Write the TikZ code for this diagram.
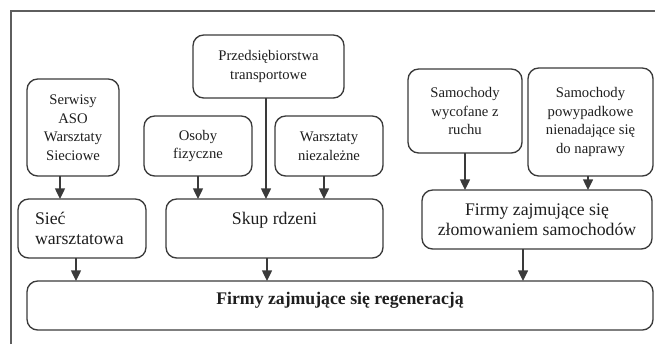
\documentclass[tikz,border=0pt]{standalone}
\usepackage{fontspec}
\setmainfont{Liberation Serif}
\usetikzlibrary{arrows.meta, calc}

\definecolor{linegray}{HTML}{3A3A3A}
\definecolor{textgray}{HTML}{1E1E1E}
\definecolor{framegray}{HTML}{5E5E5E}

\tikzset{
  box/.style={draw=linegray, line width=1pt, rounded corners=8pt, inner sep=0pt,
    outer sep=0pt, align=center, text=textgray},
  small/.style={font=\rmfamily\fontsize{11}{13.9}\selectfont},
  big/.style={font=\rmfamily\fontsize{13.3}{15}\selectfont},
  bw/.style={minimum width=0.75pt*#1},
  bh/.style={minimum height=0.75pt*#1},
  arr/.style={draw=linegray, line width=1pt, -{Triangle[width=7.5pt,length=8pt]}}
}

\begin{document}
\begin{tikzpicture}[x=0.75pt, y=-0.75pt]
        \useasboundingbox (0,0) rectangle (655,344);
        \draw[framegray, line width=1pt] (11,344) -- (11,11) -- (655,11);

        % sources
        \node[box, small, bw=92, bh=97] (serwisy) at (73,127.5) {Serwisy\\ASO\\Warsztaty\\Sieciowe};
        \node[box, small, bw=151, bh=63] (przeds) at (268.5,66.5) {Przedsiębiorstwa\\transportowe};
        \node[box, small, bw=108, bh=60] (osoby) at (198,146) {Osoby\\fizyczne};
        \node[box, small, bw=108, bh=60] (warsz) at (329,146) {Warsztaty\\niezależne};
        \node[box, small, bw=114, bh=84] (wycof) at (465,111) {Samochody\\wycofane z\\ruchu};
        \node[box, small, bw=125, bh=108] (powyp) at (590.5,122) {Samochody\\powypadkowe\\nienadające się\\do naprawy};

        % middle row
        \node[box, big, bw=128, bh=59, text width=70.5pt, align=left] (siec) at (82,228.5) {Sieć\\warsztatowa};
        \node[box, big, bw=217, bh=59, text depth=15pt] (skup) at (274.5,228.5) {Skup rdzeni};
        \node[box, big, bw=230, bh=59] (zlom) at (537,219.5) {Firmy zajmujące się\\złomowaniem samochodów};

        % bottom
        \node[box, big, bw=626, bh=49, text depth=11pt, font={\rmfamily\fontsize{13.3}{15}\selectfont\bfseries}] (regen) at (340,305.5) {Firmy zajmujące się regeneracją};

        \draw[arr] ($(serwisy.south)+(-13,0)$) coordinate (a1) -- (a1 |- siec.north);
        \draw[arr] (osoby.south) -- (osoby.south |- skup.north);
        \draw[arr] ($(przeds.south)+(-2.5,0)$) coordinate (a2) -- (a2 |- skup.north);
        \draw[arr] ($(warsz.south)+(-5,0)$) coordinate (a3) -- (a3 |- skup.north);
        \draw[arr] (wycof.south) -- (wycof.south |- zlom.north);
        \draw[arr] ($(powyp.south)+(-2.5,0)$) coordinate (a4) -- (a4 |- zlom.north);

        \draw[arr] ($(siec.south)+(-6,0)$) coordinate (b1) -- (b1 |- regen.north);
        \draw[arr] ($(skup.south)+(-7.5,0)$) coordinate (b2) -- (b2 |- regen.north);
        \draw[arr] ($(zlom.south)+(-14,0)$) coordinate (b3) -- (b3 |- regen.north);
\end{tikzpicture}
\end{document}
